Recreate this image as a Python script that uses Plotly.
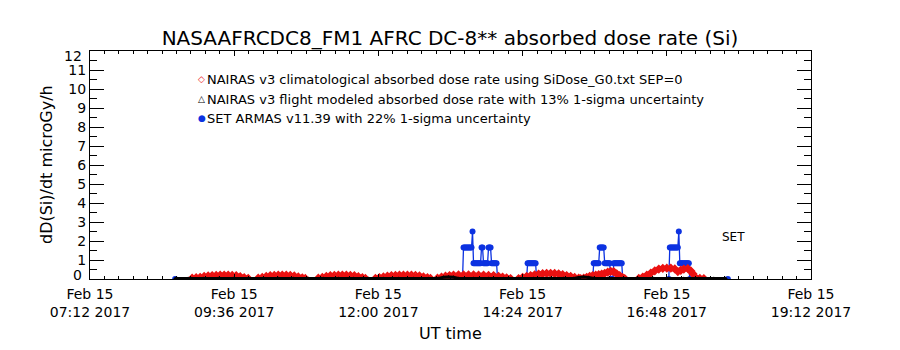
import plotly.graph_objects as go

DAY = "2017-02-15 "

# ---------------- data ----------------
# NAIRAS v3 climatological absorbed dose rate (red), None = gap between flight legs
RED_T = ["08:54", "08:58", "09:02", "09:06", "09:10", "09:14", "09:18", "09:22", "09:26", "09:30",
         "09:34", "09:38", "09:42", "09:46", "09:50", None,
         "10:00", "10:04", "10:08", "10:12", "10:16", "10:20", "10:24", "10:28", "10:32", "10:36",
         "10:40", "10:44", "10:47", None,
         "11:00", "11:04", "11:08", "11:12", "11:16", "11:20", "11:24", "11:28", "11:32", "11:36",
         "11:40", "11:44", "11:47", None,
         "11:57", "12:01", "12:05", "12:09", "12:13", "12:17", "12:21", "12:25", "12:29", "12:33",
         "12:37", "12:41", "12:45", "12:49", "12:52", None,
         "12:59", "13:03", "13:07", "13:11", "13:15", "13:20", "13:25", "13:30", "13:35", "13:40",
         "13:45", "13:50", "13:55", "14:00", "14:04", "14:08", "14:12", None,
         "14:20", "14:24", "14:28", "14:32", "14:36", "14:40", "14:44", "14:48", "14:52", "14:56",
         "15:00", "15:04", "15:08", "15:12", "15:16", "15:20", "15:22", None,
         "15:25", "15:28", "15:31", "15:34", "15:37", "15:40", "15:43", "15:46", "15:49", "15:52",
         "15:55", "15:58", "16:01", "16:04", "16:06", None,
         "16:20", "16:24", "16:28", "16:32", "16:36", "16:40", "16:44", "16:48", "16:52", "16:56",
         "16:59", "17:02", "17:05", "17:09", "17:12", "17:14", "17:17", "17:21", "17:25"]
RED_V = [0.04, 0.07, 0.09, 0.13, 0.16, 0.18, 0.19, 0.20, 0.20, 0.20,
         0.19, 0.17, 0.12, 0.07, 0.03, None,
         0.04, 0.08, 0.13, 0.17, 0.19, 0.20, 0.20, 0.20, 0.19, 0.16,
         0.11, 0.06, 0.03, None,
         0.04, 0.08, 0.13, 0.17, 0.19, 0.20, 0.20, 0.20, 0.19, 0.17,
         0.12, 0.07, 0.03, None,
         0.03, 0.07, 0.11, 0.15, 0.18, 0.19, 0.20, 0.20, 0.20, 0.20,
         0.19, 0.16, 0.11, 0.07, 0.03, None,
         0.04, 0.10, 0.15, 0.18, 0.20, 0.21, 0.21, 0.21, 0.21, 0.20,
         0.20, 0.19, 0.18, 0.14, 0.10, 0.06, 0.02, None,
         0.02, 0.08, 0.13, 0.18, 0.22, 0.26, 0.28, 0.30, 0.30, 0.29,
         0.27, 0.23, 0.18, 0.13, 0.08, 0.04, 0.02, None,
         0.04, 0.09, 0.14, 0.18, 0.20, 0.23, 0.26, 0.30, 0.36, 0.40,
         0.38, 0.27, 0.17, 0.07, 0.02, None,
         0.03, 0.10, 0.20, 0.31, 0.43, 0.52, 0.56, 0.57, 0.57, 0.53,
         0.39, 0.46, 0.52, 0.55, 0.42, 0.28, 0.07, 0.03, 0.02]

# NAIRAS v3 flight modeled absorbed dose rate (black)
BLACK_T = ["08:37", "08:50", "09:05", "09:20", "09:35", "09:50", "10:05", "10:20", "10:35", "10:50",
           "11:05", "11:20", "11:35", "11:50", "12:05", "12:20", "12:35", "12:50", "13:00", "13:05",
           "13:10", "13:15", "13:20", "13:35", "13:50", "14:05", "14:20", "14:35", "14:50", "15:05",
           "15:15", "15:20", "15:25", "15:30", "15:35", "15:50", "16:05", "16:20", "16:35", "16:50",
           "17:05", "17:20", "17:35", "17:47"]
BLACK_V = [0.02, 0.02, 0.02, 0.03, 0.03, 0.02, 0.02, 0.03, 0.03, 0.02,
           0.02, 0.03, 0.03, 0.02, 0.02, 0.03, 0.03, 0.02, 0.03, 0.09,
           0.11, 0.09, 0.03, 0.03, 0.03, 0.02, 0.02, 0.03, 0.03, 0.03,
           0.03, 0.08, 0.10, 0.08, 0.03, 0.03, 0.02, 0.02, 0.03, 0.03,
           0.03, 0.03, 0.02, 0.02]

# SET ARMAS v11.39 (blue), 1-minute samples in the active periods
BLUE_T = ["08:37", "10:30", "12:00",
          "13:24", "13:25", "13:26", "13:27", "13:28", "13:29", "13:30", "13:31", "13:32", "13:33",
          "13:34", "13:35", "13:36", "13:37", "13:38", "13:39", "13:40", "13:41", "13:42", "13:43",
          "13:44", "13:45", "13:46", "13:47", "13:48", "13:49", "13:50", "13:51", "13:52", "13:53",
          "13:54", "13:55", "13:56", "13:57", "13:58", "13:59",
          "14:28", "14:29", "14:30", "14:31", "14:32", "14:33", "14:34", "14:35", "14:36", "14:37", "14:38",
          "15:34", "15:35", "15:36", "15:37", "15:38", "15:39", "15:40", "15:41", "15:42", "15:43",
          "15:44", "15:45", "15:46", "15:47", "15:48", "15:49", "15:50", "15:51", "15:52", "15:53",
          "15:54", "15:55", "15:56", "15:57", "15:58", "15:59", "16:00", "16:01", "16:02", "16:03", "16:04",
          "16:50", "16:51", "16:52", "16:53", "16:54", "16:55", "16:56", "16:57", "16:58", "16:59",
          "17:00", "17:01", "17:02", "17:03", "17:04", "17:05", "17:06", "17:07", "17:08", "17:09", "17:10", "17:11",
          "17:49"]
BLUE_V = [0, 0, 0,
          0, 1.66, 1.66, 1.66, 1.66, 1.66, 1.66, 1.66, 1.66, 1.66,
          2.5, 0.83, 0.83, 0.83, 0.83, 0.83, 0.83, 0.83, 0.83, 1.66,
          1.66, 0.83, 0.83, 0.83, 0.83, 0.83, 1.66, 1.66, 1.66, 0.83,
          0.83, 0.83, 0.83, 0.83, 0.83, 0,
          0, 0.83, 0.83, 0.83, 0.83, 0.83, 0.83, 0.83, 0.83, 0.83, 0,
          0, 0.83, 0.83, 0.83, 0.83, 0.83, 0.83, 1.66, 1.66, 1.66,
          1.66, 1.66, 0.83, 0.83, 0.83, 0.83, 0.83, 0.83, 0, 0,
          0, 0.83, 0.83, 0.83, 0.83, 0.83, 0.83, 0.83, 0.83, 0.83, 0,
          0, 1.66, 1.66, 1.66, 1.66, 1.66, 1.66, 1.66, 1.66, 1.66,
          2.5, 0.83, 0.83, 0.83, 0.83, 0.83, 0.83, 0.83, 0.83, 0.83, 0.83, 0,
          0]

X_TICKS = ["07:12", "09:36", "12:00", "14:24", "16:48", "19:12"]
X_TICK_DAY = "Feb 15"
X_TICK_YEAR = "2017"
Y_TICKS = [0, 1, 2, 3, 4, 5, 6, 7, 8, 9, 10, 11, 12]
Y_TICK_LABELS = ["0", "1", "2", "3", "4", "5", "6", "7", "8", "9", "10", "11", "12"]

TITLE = "NASAAFRCDC8_FM1 AFRC DC-8** absorbed dose rate (Si)"
X_TITLE = "UT time"
Y_TITLE = "dD(Si)/dt microGy/h"
LEGEND_TEXT = ["NAIRAS v3 climatological absorbed dose rate using SiDose_G0.txt SEP=0",
               "NAIRAS v3 flight modeled absorbed dose rate with 13% 1-sigma uncertainty",
               "SET ARMAS v11.39 with 22% 1-sigma uncertainty"]
LEGEND_SYMBOL = ["\u25c7", "\u25b3", "\u25cf"]
SET_LABEL = "SET"

# ---------------- styling ----------------
RED = "rgb(235,18,18)"
BLUE = "rgb(12,50,225)"
BLACK = "black"
FONT = "DejaVu Sans"


def ts(t):
    return None if t is None else DAY + t


fig = go.Figure()
fig.add_trace(go.Scatter(
    x=[ts(t) for t in BLUE_T], y=BLUE_V, mode="lines+markers",
    line=dict(color=BLUE, width=1.3),
    marker=dict(symbol="circle", size=6, color=BLUE),
    showlegend=False, hoverinfo="skip"))
fig.add_trace(go.Scatter(
    x=[ts(t) for t in RED_T], y=RED_V, mode="lines+markers",
    line=dict(color=RED, width=5),
    marker=dict(symbol="diamond-open", size=5, color=RED, line=dict(width=2)),
    connectgaps=False, showlegend=False, hoverinfo="skip"))
fig.add_trace(go.Scatter(
    x=[ts(t) for t in BLACK_T], y=BLACK_V, mode="lines+markers",
    line=dict(color=BLACK, width=3),
    marker=dict(symbol="triangle-up", size=4, color=BLACK),
    showlegend=False, hoverinfo="skip"))

# plot area: x 90..811, y 51..279
L, R, T, B = 90, 89, 51, 71
PW = 900 - L - R
PH = 350 - T - B


def px_x(px):
    return (px - L) / PW


def px_y(py):
    return (350 - B - py) / PH


ann = []
# end y labels (shifted inward as in the original)
ann.append(dict(x=0, xref="paper", xshift=-6, y=Y_TICKS[0], yref="y", yshift=4,
                text=Y_TICK_LABELS[0], showarrow=False, xanchor="right", yanchor="middle",
                font=dict(family=FONT, size=14, color="black")))
ann.append(dict(x=0, xref="paper", xshift=-6, y=Y_TICKS[-1], yref="y", yshift=-5,
                text=Y_TICK_LABELS[-1], showarrow=False, xanchor="right", yanchor="middle",
                font=dict(family=FONT, size=14, color="black")))

# axis titles
ann.append(dict(x=0.5, xref="paper", y=0, yref="paper", yshift=-54,
                text=X_TITLE, showarrow=False, xanchor="center", yanchor="middle",
                font=dict(family=FONT, size=16, color="black")))
ann.append(dict(x=px_x(46), xref="paper", y=0.5, yref="paper", textangle=-90,
                text=Y_TITLE, showarrow=False, xanchor="center", yanchor="middle",
                font=dict(family=FONT, size=16, color="black")))

# in-plot legend
leg_rows = [79, 99, 118]
sym_colors = [RED, BLACK, BLUE]
for i in range(3):
    ann.append(dict(x=px_x(201.5), xref="paper", y=px_y(leg_rows[i]), yref="paper",
                    text=LEGEND_SYMBOL[i], showarrow=False, xanchor="center", yanchor="middle",
                    font=dict(family=FONT, size=9, color=sym_colors[i])))
    ann.append(dict(x=px_x(204.5), xref="paper", y=px_y(leg_rows[i]), yref="paper",
                    text=LEGEND_TEXT[i], showarrow=False, xanchor="left", yanchor="middle",
                    font=dict(family=FONT, size=13, color="black")))

ann.append(dict(x=DAY + "17:55", xref="x", y=2.2, yref="y",
                text=SET_LABEL, showarrow=False, xanchor="center", yanchor="middle",
                font=dict(family=FONT, size=12, color="black")))

fig.update_layout(
    width=900, height=350,
    margin=dict(l=L, r=R, t=T, b=B, pad=0),
    paper_bgcolor="white", plot_bgcolor="white",
    showlegend=False,
    title=dict(text=TITLE, x=0.5, xref="container", xanchor="center",
               y=1 - 38 / 350, yref="container", yanchor="middle",
               font=dict(family=FONT, size=20, color="black")),
    annotations=ann,
    font=dict(family=FONT, color="black"),
)

fig.update_xaxes(
    type="date", range=[DAY + X_TICKS[0], DAY + X_TICKS[-1]],
    tickmode="array", tickvals=[DAY + t for t in X_TICKS],
    ticktext=[X_TICK_DAY + "<br>" + t + " " + X_TICK_YEAR for t in X_TICKS],
    tickfont=dict(family=FONT, size=14, color="black"),
    ticklabelstandoff=2,
    ticks="inside", ticklen=5, tickwidth=1, tickcolor="black",
    showline=True, linecolor="black", linewidth=1, mirror="allticks",
    showgrid=False, zeroline=False,
    minor=dict(tickmode="linear", tick0=DAY + X_TICKS[0], dtick=864000, ticks="inside", ticklen=3,
               tickwidth=1, tickcolor="black", showgrid=False),
)
fig.update_yaxes(
    range=[Y_TICKS[0], Y_TICKS[-1]],
    tickmode="array", tickvals=Y_TICKS,
    ticktext=[""] + Y_TICK_LABELS[1:-1] + [""],
    ticks="inside", ticklen=14, tickwidth=1, tickcolor="black",
    tickfont=dict(family=FONT, size=14, color="black"),
    showline=True, linecolor="black", linewidth=1, mirror="allticks",
    showgrid=False, zeroline=False,
    minor=dict(tickmode="linear", tick0=0, dtick=0.5, ticks="inside", ticklen=7,
               tickwidth=1, tickcolor="black", showgrid=False),
)

fig.write_html("out.html")
